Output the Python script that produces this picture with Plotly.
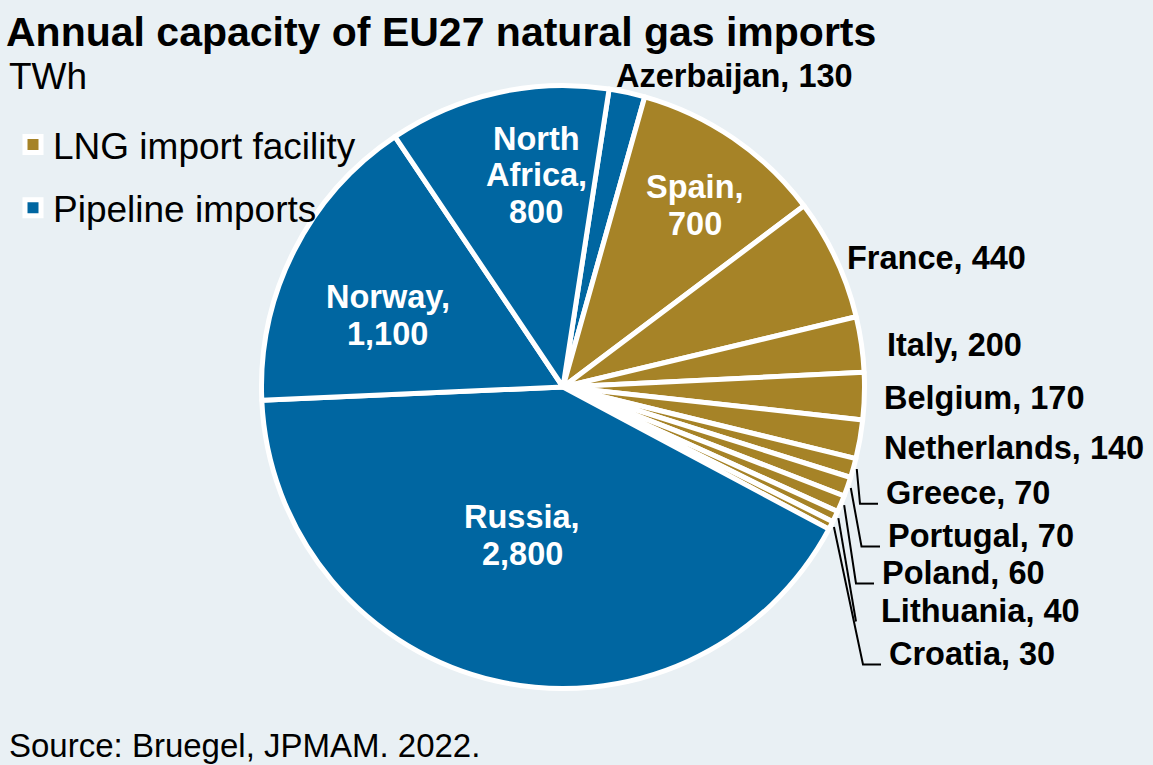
import math
import plotly.graph_objects as go

# ---------------- data ----------------
countries = ["Azerbaijan", "Spain", "France", "Italy", "Belgium", "Netherlands",
             "Greece", "Portugal", "Poland", "Lithuania", "Croatia",
             "Russia", "Norway", "North Africa"]
capacity_twh = [130, 700, 440, 200, 170, 140, 70, 70, 60, 40, 30, 2800, 1100, 800]
import_type = ["Pipeline", "LNG", "LNG", "LNG", "LNG", "LNG",
               "LNG", "LNG", "LNG", "LNG", "LNG",
               "Pipeline", "Pipeline", "Pipeline"]
legend_order = ["LNG", "Pipeline"]
legend_names = {"LNG": "LNG import facility", "Pipeline": "Pipeline imports"}

title_text = "Annual capacity of EU27 natural gas imports"
unit_text = "TWh"
source_text = "Source: Bruegel, JPMAM. 2022."

# ---------------- style / layout ----------------
W, H = 1153, 765
BG = "#E9F0F4"
COLORS = {"LNG": "#A68327", "Pipeline": "#0066A1"}
FONT = "Liberation Sans, Arial, Helvetica, sans-serif"
CX, CY, R = 563.0, 387.0, 301.5      # pie centre / radius in px
ROTATION = 8.8
BORDER = 5
LABEL_SIZE = 32.5
LINE_STEP = 36.7

# inside labels: centre x, centre y (px), name lines
inside_labels = {
    "North Africa": (536, 175.5, ["North", "Africa,"]),
    "Spain": (694.5, 205.8, ["Spain,"]),
    "Norway": (388, 315.8, ["Norway,"]),
    "Russia": (522, 535.8, ["Russia,"]),
}
# outside labels: left x, centre y (px)
outside_labels = {
    "Azerbaijan": (617, 76),
    "France": (848, 257.5),
    "Italy": (888, 345),
    "Belgium": (885, 397.5),
    "Netherlands": (885, 447.8),
    "Greece": (887, 493.3),
    "Portugal": (889, 536),
    "Poland": (883, 573),
    "Lithuania": (882, 611),
    "Croatia": (890, 654),
}
# leader lines: elbow x (px), whether a horizontal tail is drawn
leaders = {
    "Greece": (860, True),
    "Portugal": (861.5, True),
    "Poland": (856, True),
    "Lithuania": (856, False),
    "Croatia": (863, True),
}


def px(x):
    return x / W


def py(y):
    return 1 - y / H


colors = [COLORS[t] for t in import_type]

fig = go.Figure()
fig.add_trace(go.Pie(
    labels=countries, values=capacity_twh,
    marker=dict(colors=colors, line=dict(color="white", width=BORDER)),
    sort=False, direction="clockwise", rotation=ROTATION,
    textinfo="none", showlegend=False,
    hovertemplate="%{label}: %{value:,} TWh<extra></extra>",
    domain=dict(x=[px(CX - R), px(CX + R)], y=[py(CY + R), py(CY - R)]),
))

for key in legend_order:
    fig.add_trace(go.Scatter(
        x=[None], y=[None], mode="markers", name=legend_names[key],
        legendgroup=key,
        marker=dict(symbol="square", size=16, color=COLORS[key],
                    line=dict(color="white", width=5)),
    ))

annotations = []
shapes = []

# slice angles from the data
total = sum(capacity_twh)
mid_angle = {}
cum = 0
for c, v in zip(countries, capacity_twh):
    a0 = ROTATION + 360 * cum / total
    cum += v
    a1 = ROTATION + 360 * cum / total
    mid_angle[c] = (a0 + a1) / 2

val = dict(zip(countries, capacity_twh))

for c, (xc, yc, name_lines) in inside_labels.items():
    lines = name_lines + [f"{val[c]:,}"]
    n = len(lines)
    for i, t in enumerate(lines):
        annotations.append(dict(
            x=px(xc), y=py(yc + (i - (n - 1) / 2) * LINE_STEP),
            xref="paper", yref="paper", text=t, showarrow=False,
            xanchor="center", yanchor="middle",
            font=dict(family=FONT, size=LABEL_SIZE, color="white", weight="bold"),
        ))

for c, (xl, yc) in outside_labels.items():
    annotations.append(dict(
        x=px(xl - 3), y=py(yc), xref="paper", yref="paper",
        text=f"{c}, {val[c]:,}", showarrow=False,
        xanchor="left", yanchor="middle",
        font=dict(family=FONT, size=LABEL_SIZE, color="black", weight="bold"),
    ))

for c, (ex, tail) in leaders.items():
    a = math.radians(mid_angle[c])
    r0 = R + 3.5
    x0 = CX + r0 * math.sin(a)
    y0 = CY - r0 * math.cos(a)
    lx, lyc = outside_labels[c]
    ly = lyc + 10.5
    path = f"M {px(x0)},{py(y0)} L {px(ex)},{py(ly)}"
    if tail:
        path += f" L {px(lx - 9)},{py(ly)}"
    shapes.append(dict(type="path", xref="paper", yref="paper", path=path,
                       line=dict(color="black", width=2)))

annotations.append(dict(
    x=px(7), y=py(76.5), xref="paper", yref="paper", text=unit_text,
    showarrow=False, xanchor="left", yanchor="middle",
    font=dict(family=FONT, size=37, color="black"),
))
annotations.append(dict(
    x=px(7), y=py(745), xref="paper", yref="paper", text=source_text,
    showarrow=False, xanchor="left", yanchor="middle",
    font=dict(family=FONT, size=33, color="black"),
))

fig.update_layout(
    width=W, height=H,
    margin=dict(l=0, r=0, t=0, b=0, autoexpand=False),
    paper_bgcolor=BG, plot_bgcolor=BG,
    title=dict(text=title_text, x=px(6), xanchor="left", y=py(31.8),
               yanchor="middle", xref="paper", yref="paper",
               font=dict(family=FONT, size=41, color="black", weight="bold")),
    xaxis=dict(visible=False), yaxis=dict(visible=False),
    legend=dict(x=px(13), y=py(114), xanchor="left", yanchor="top",
                bgcolor="rgba(0,0,0,0)", borderwidth=0,
                traceorder="grouped", tracegroupgap=12,
                font=dict(family=FONT, size=37, color="black")),
    annotations=annotations, shapes=shapes,
    showlegend=True,
)

fig.write_html(
    "out.html",
    config={"displayModeBar": False},
    post_script="document.body.style.margin='0px';document.body.style.overflow='hidden';",
)
